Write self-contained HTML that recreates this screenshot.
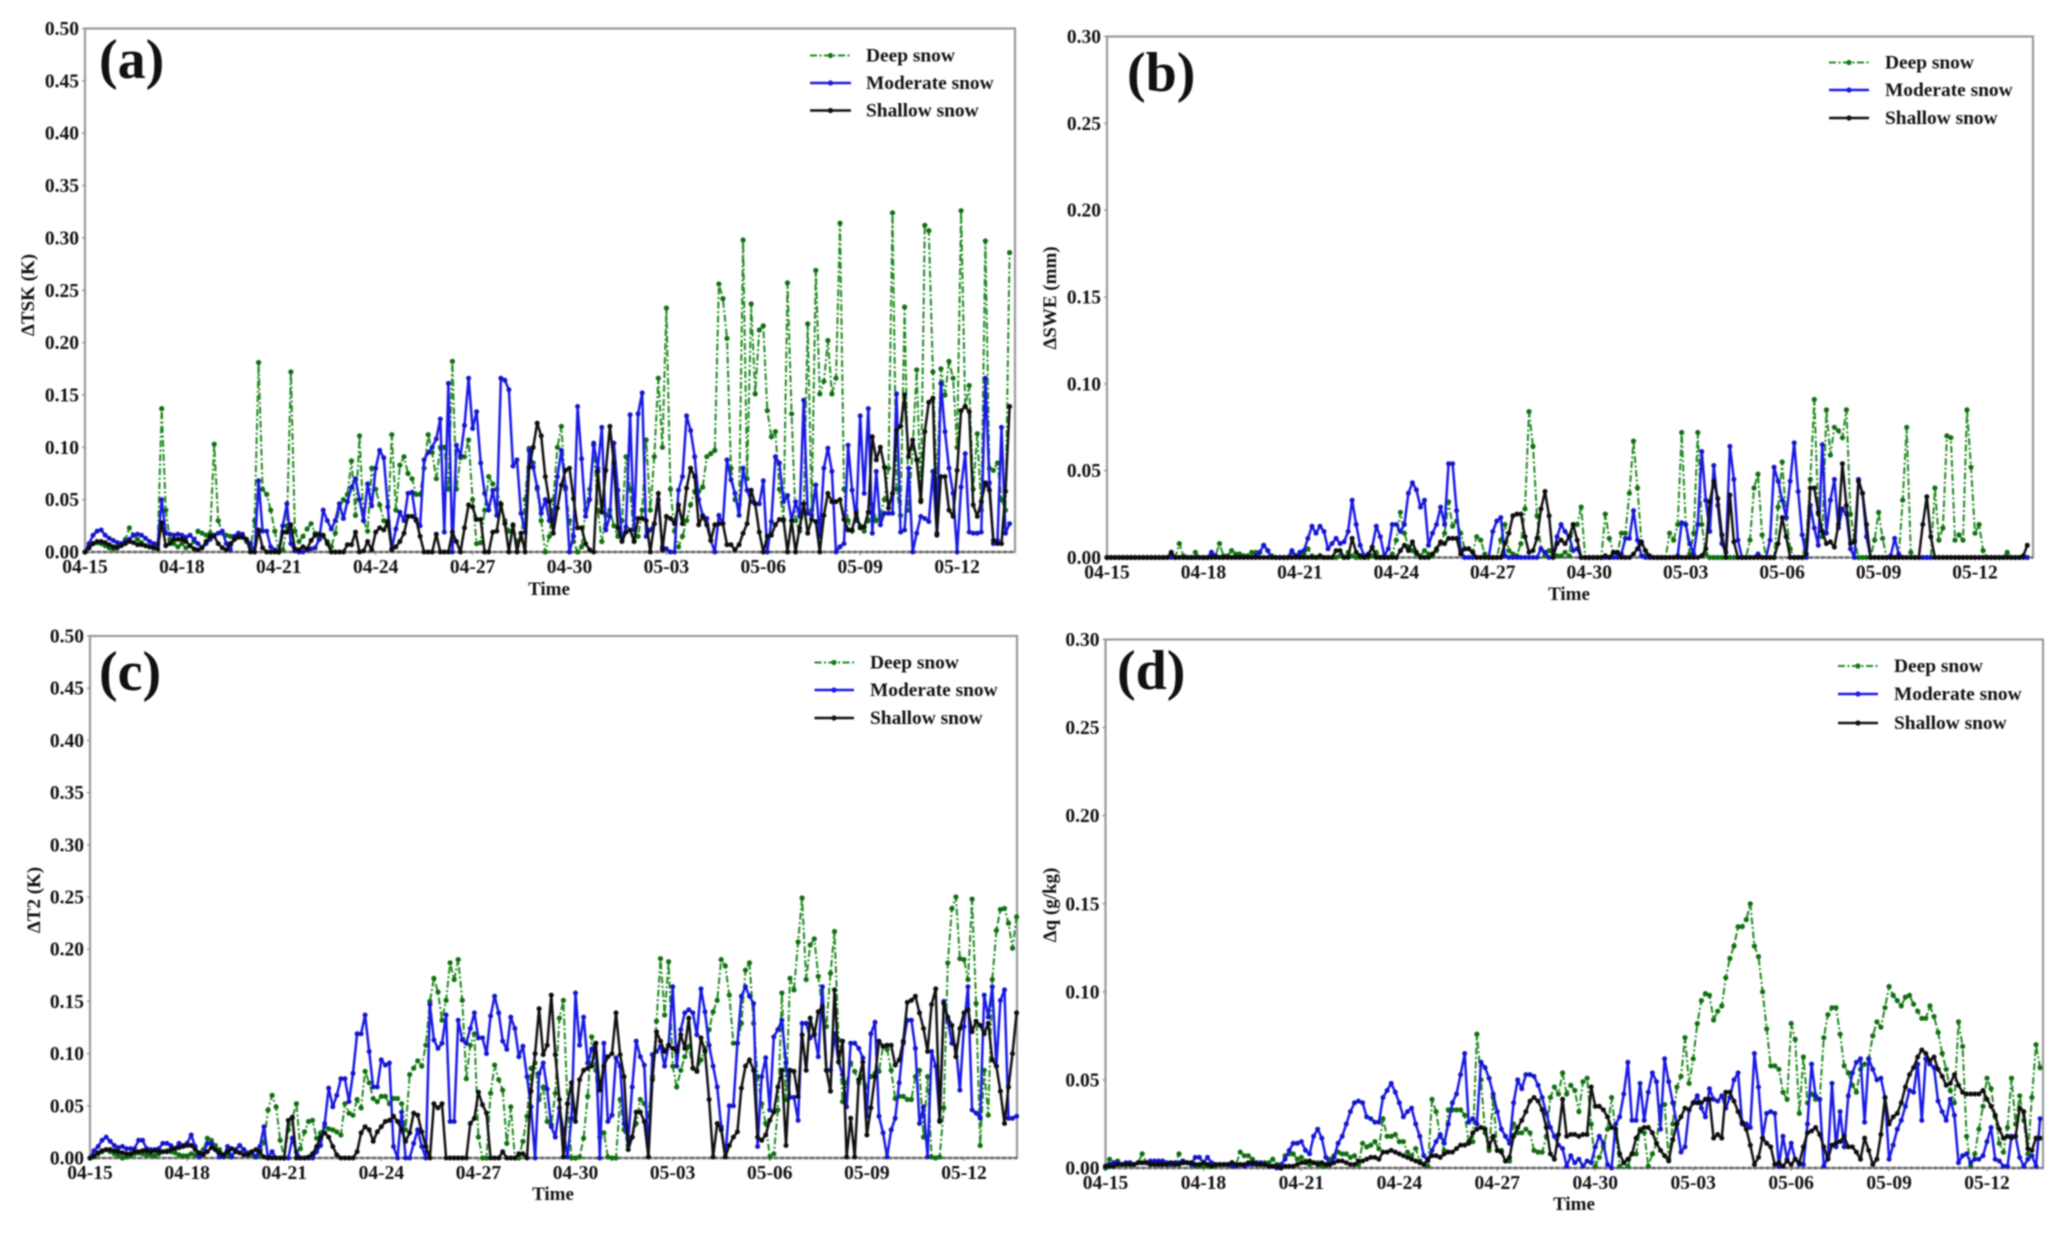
<!DOCTYPE html>
<html>
<head>
<meta charset="utf-8">
<title>Snow cover differences</title>
<style>
html,body{margin:0;padding:0;background:#fff;}
svg{display:block;filter:blur(0.75px);}
text{font-family:"Liberation Serif",serif;font-weight:bold;fill:#111;}
.tick{font-size:19.5px;}
.title{font-size:19px;}
.leg{font-size:19.4px;}
.tag{font-size:56px;}
.frame{fill:none;stroke:#999;stroke-width:2.2;}
</style>
</head>
<body>
<svg id="figure" width="2067" height="1235" viewBox="0 0 2067 1235" xmlns="http://www.w3.org/2000/svg">
<rect x="0" y="0" width="2067" height="1235" fill="#fff"/>

<g id="panel-a">
<rect class="frame" x="85" y="28.5" width="930" height="523.5"/>
<text class="tag" x="99" y="78">(a)</text>
<text class="title" x="549" y="595" text-anchor="middle">Time</text>
<text class="title" transform="translate(34,295) rotate(-90)" text-anchor="middle">ΔTSK (K)</text>
<g>
<line x1="810" x2="851" y1="55.5" y2="55.5" stroke="#1f8a1f" stroke-width="2" stroke-dasharray="7 2.5 2 2.5"/><circle cx="830.5" cy="55.5" r="2.6" fill="#137513"/>
<text class="leg" x="866" y="61.5">Deep snow</text>
<line x1="810" x2="851" y1="83" y2="83" stroke="#1a1ae6" stroke-width="2.4"/><circle cx="830.5" cy="83" r="2.6" fill="#1a1ae6"/>
<text class="leg" x="866" y="89">Moderate snow</text>
<line x1="810" x2="851" y1="110.5" y2="110.5" stroke="#111" stroke-width="2.4"/><circle cx="830.5" cy="110.5" r="2.6" fill="#111"/>
<text class="leg" x="866" y="116.5">Shallow snow</text>
</g>
</g>

<g id="panel-b">
<rect class="frame" x="1107" y="36.5" width="926" height="521"/>
<text class="tag" x="1127" y="91">(b)</text>
<text class="title" x="1569" y="600" text-anchor="middle">Time</text>
<text class="title" transform="translate(1056,298) rotate(-90)" text-anchor="middle">ΔSWE (mm)</text>
<g>
<line x1="1829" x2="1869" y1="62.5" y2="62.5" stroke="#1f8a1f" stroke-width="2" stroke-dasharray="7 2.5 2 2.5"/><circle cx="1849" cy="62.5" r="2.6" fill="#137513"/>
<text class="leg" x="1885" y="68.5">Deep snow</text>
<line x1="1829" x2="1869" y1="90" y2="90" stroke="#1a1ae6" stroke-width="2.4"/><circle cx="1849" cy="90" r="2.6" fill="#1a1ae6"/>
<text class="leg" x="1885" y="96">Moderate snow</text>
<line x1="1829" x2="1869" y1="118" y2="118" stroke="#111" stroke-width="2.4"/><circle cx="1849" cy="118" r="2.6" fill="#111"/>
<text class="leg" x="1885" y="124">Shallow snow</text>
</g>
</g>

<g id="panel-c">
<rect class="frame" x="90" y="636" width="927" height="522"/>
<text class="tag" x="99" y="690">(c)</text>
<text class="title" x="553" y="1200" text-anchor="middle">Time</text>
<text class="title" transform="translate(40,900) rotate(-90)" text-anchor="middle">ΔT2 (K)</text>
<g>
<line x1="814.5" x2="854" y1="662.5" y2="662.5" stroke="#1f8a1f" stroke-width="2" stroke-dasharray="7 2.5 2 2.5"/><circle cx="834" cy="662.5" r="2.6" fill="#137513"/>
<text class="leg" x="870" y="668.5">Deep snow</text>
<line x1="814.5" x2="854" y1="690" y2="690" stroke="#1a1ae6" stroke-width="2.4"/><circle cx="834" cy="690" r="2.6" fill="#1a1ae6"/>
<text class="leg" x="870" y="696">Moderate snow</text>
<line x1="814.5" x2="854" y1="718" y2="718" stroke="#111" stroke-width="2.4"/><circle cx="834" cy="718" r="2.6" fill="#111"/>
<text class="leg" x="870" y="724">Shallow snow</text>
</g>
</g>

<g id="panel-d">
<rect class="frame" x="1105.5" y="639.5" width="937.5" height="528.5"/>
<text class="tag" x="1117" y="689">(d)</text>
<text class="title" x="1574" y="1210" text-anchor="middle">Time</text>
<text class="title" transform="translate(1056,905) rotate(-90)" text-anchor="middle">Δq (g/kg)</text>
<g>
<line x1="1838" x2="1878" y1="666" y2="666" stroke="#1f8a1f" stroke-width="2" stroke-dasharray="7 2.5 2 2.5"/><circle cx="1858" cy="666" r="2.6" fill="#137513"/>
<text class="leg" x="1894" y="672">Deep snow</text>
<line x1="1838" x2="1878" y1="694" y2="694" stroke="#1a1ae6" stroke-width="2.4"/><circle cx="1858" cy="694" r="2.6" fill="#1a1ae6"/>
<text class="leg" x="1894" y="700">Moderate snow</text>
<line x1="1838" x2="1878" y1="723" y2="723" stroke="#111" stroke-width="2.4"/><circle cx="1858" cy="723" r="2.6" fill="#111"/>
<text class="leg" x="1894" y="729">Shallow snow</text>
</g>
</g>
</svg>

<script>
// Values are 3-hourly and given in thousandths of the axis unit; each row spans 3 days.
const xTickLabels = ["04-15","04-18","04-21","04-24","04-27","04-30","05-03","05-06","05-09","05-12"];
const yTicksLarge = [0,0.05,0.10,0.15,0.20,0.25,0.30,0.35,0.40,0.45,0.50];
const yTicksSmall = [0,0.05,0.10,0.15,0.20,0.25,0.30];

const deepTsk = [
0,4,8,9,8,6,4,3,5,8,12,23,16,12,9,6,5,4,8,137,40,12,8,5,
8,4,6,10,20,18,16,18,103,30,18,16,15,12,15,14,10,4,30,181,60,55,40,20,
0,2,25,172,20,10,15,22,27,18,12,15,10,5,18,42,50,55,87,35,111,30,20,80,
60,45,30,25,112,40,83,91,75,70,55,55,80,112,95,70,100,100,60,182,60,90,91,107,
50,8,9,40,72,65,60,45,30,20,25,10,12,50,99,85,60,30,0,15,50,100,120,60,
30,10,0,5,40,60,102,40,10,35,40,25,15,30,91,60,10,15,40,107,40,91,166,100,
233,60,20,5,15,30,45,58,58,62,91,94,97,256,242,204,80,50,45,298,70,237,151,212,
216,135,110,115,60,30,257,132,30,20,40,218,40,269,151,163,202,151,166,314,60,30,20,40,
25,20,30,45,30,35,50,80,324,60,35,234,40,100,174,50,312,307,172,60,175,150,182,166,
100,326,139,159,60,113,40,297,80,78,85,50,40,286];
const moderateTsk = [
0,8,16,20,21,16,13,11,9,8,10,12,16,17,16,13,10,8,7,50,18,17,16,17,
16,14,16,12,8,4,8,12,16,18,20,8,2,15,18,17,12,8,0,68,20,20,5,2,
0,25,46,8,1,0,0,2,3,4,12,40,30,22,30,46,32,48,62,70,50,30,65,44,
80,97,90,43,3,22,38,30,56,57,30,25,88,95,100,108,127,19,161,0,102,92,121,166,
118,134,85,56,40,59,35,166,164,155,82,88,37,19,97,81,62,37,50,30,30,72,97,62,
0,15,139,89,34,50,104,80,119,21,34,104,59,11,24,131,21,132,152,15,21,27,50,5,
3,0,0,59,72,130,116,91,50,35,32,11,0,35,27,88,69,56,35,80,59,48,46,46,
68,0,29,91,85,48,54,30,48,34,145,37,35,64,15,80,99,77,0,5,8,102,59,30,
130,56,137,18,77,26,37,37,37,151,19,21,80,0,18,34,32,29,77,18,161,115,80,56,
0,62,94,19,18,18,19,166,66,8,11,119,18,27];
const shallowTsk = [
0,4,8,10,10,9,7,5,4,6,8,10,9,7,7,6,5,4,3,28,6,8,12,12,
12,10,6,3,2,4,10,15,15,8,4,2,8,12,14,14,12,0,0,21,4,0,0,0,
0,19,19,26,3,2,5,3,11,16,17,16,8,0,0,0,0,7,7,19,0,1,10,2,
19,23,21,29,2,5,10,18,34,34,31,15,0,0,0,17,0,0,0,19,10,0,23,45,
43,31,31,0,0,19,20,46,27,0,26,0,18,0,81,100,123,111,72,48,18,42,64,78,
80,51,23,23,8,2,0,77,38,78,120,85,23,10,19,21,10,32,32,30,0,27,56,2,
34,32,27,45,27,61,80,72,26,34,26,11,26,27,27,7,7,2,7,18,27,59,46,19,
0,15,16,26,31,31,0,30,0,23,46,18,31,29,0,35,56,48,48,50,31,21,21,37,
23,24,38,110,88,100,81,42,56,116,120,150,91,107,88,48,115,143,147,16,72,72,40,34,
78,135,139,134,45,34,48,66,59,11,8,8,58,139];

const deepSwe = [
0,0,0,0,0,0,0,0,0,0,0,0,0,0,0,0,2,0,8,1,0,0,3,0,
0,0,2,1,8,1,1,4,2,2,1,1,3,3,3,7,4,1,0,0,0,0,3,1,
1,2,5,1,0,0,0,0,0,0,1,0,3,1,0,0,0,0,1,3,0,0,0,2,
10,26,14,6,4,2,1,4,2,1,4,8,14,32,18,21,14,5,5,3,12,10,2,0,
0,0,10,19,4,2,1,8,28,84,64,24,5,1,4,2,1,1,3,1,19,19,29,0,
0,0,0,0,25,11,3,2,14,14,37,67,40,8,1,0,0,0,0,0,14,10,19,72,
19,2,14,72,19,2,0,0,0,0,0,0,0,0,0,0,10,40,48,13,0,0,0,29,
55,23,5,0,0,0,10,45,91,25,12,85,59,75,73,69,85,25,10,0,0,0,0,10,
26,11,0,0,0,0,33,75,3,0,0,0,0,0,40,10,17,70,69,10,13,10,85,52,
14,19,4,0,0,0,0,0,3,0,0,0,0,0];
const moderateSwe = [
0,0,0,0,0,0,0,0,0,0,0,0,0,0,0,0,0,0,0,0,0,0,0,0,
0,0,3,1,0,0,0,0,0,0,0,0,0,1,3,7,4,0,0,0,0,0,4,1,
3,4,11,18,14,18,15,5,8,11,8,9,15,33,19,7,1,2,6,18,12,1,5,19,
19,15,19,37,43,39,29,33,7,14,19,29,19,54,54,27,4,0,0,0,0,0,0,0,
15,21,23,1,0,0,0,0,0,0,0,0,5,3,0,0,12,19,15,12,4,5,0,0,
0,0,0,0,0,0,0,0,2,11,11,27,10,1,0,0,0,0,0,0,0,0,1,20,
19,8,2,19,61,33,15,53,30,8,3,64,45,10,0,0,0,0,2,0,0,10,52,44,
33,23,44,66,38,13,0,30,17,7,65,14,33,45,17,28,25,5,0,45,37,12,0,0,
0,0,0,1,11,2,0,0,0,0,0,0,0,0,0,0,0,0,0,0,0,0,0,0,
0,0,0,0,0,0,0,0,0,0,0,0,0,0];
const shallowSwe = [
0,0,0,0,0,0,0,0,0,0,0,0,0,0,0,0,3,0,0,0,0,0,0,0,
0,0,0,0,0,0,0,0,0,0,0,0,0,0,0,0,0,0,0,0,0,0,0,0,
0,0,0,0,0,1,0,0,0,4,4,0,0,11,3,1,0,1,6,0,0,0,0,0,
0,4,7,4,9,3,0,0,0,2,5,9,8,11,11,11,2,5,5,3,0,0,0,0,
0,0,0,8,14,24,25,25,12,3,4,11,28,38,24,0,8,10,8,12,19,10,0,0,
0,0,0,0,1,0,3,3,0,0,0,2,5,9,4,1,0,0,0,0,0,0,0,0,
0,0,0,0,1,5,32,44,34,13,0,36,9,0,0,0,0,0,0,0,0,0,0,8,
23,12,0,0,0,0,2,40,40,26,15,8,9,6,19,54,30,8,9,44,37,19,0,0,
0,0,0,0,0,0,0,0,0,0,0,19,35,12,0,0,0,0,0,0,0,0,0,0,
0,0,0,0,0,0,0,0,0,0,0,0,1,7];

const deepT2 = [
0,1,4,6,8,6,4,2,0,1,2,4,5,4,3,3,2,4,6,7,6,5,3,2,
2,4,3,1,8,19,17,12,8,3,2,1,8,12,8,5,3,1,2,15,46,60,49,17,
0,27,38,52,9,25,35,36,19,24,30,28,27,25,22,52,43,41,56,48,83,72,57,54,
59,59,52,57,57,52,27,80,86,93,88,108,150,172,159,132,151,187,171,190,151,76,108,119,
20,0,0,62,89,75,65,14,49,0,0,16,40,86,91,56,68,35,32,62,134,151,52,0,
0,1,19,59,116,84,20,24,1,0,0,56,27,12,20,33,56,52,40,78,131,191,137,188,
88,68,84,97,107,86,83,94,104,123,140,151,190,184,156,110,110,129,180,187,129,78,52,33,
1,4,46,158,56,172,161,207,249,171,204,210,174,142,126,177,217,113,54,72,91,83,72,78,
68,78,81,83,107,104,84,57,59,59,56,56,78,84,20,78,1,0,1,48,187,239,250,191,
190,171,248,148,12,84,41,171,218,238,239,225,201,231];
const moderateT2 = [
0,7,11,17,20,16,12,10,11,9,9,9,17,17,9,8,8,9,14,14,12,9,14,12,
14,22,11,1,4,14,14,8,1,1,11,1,8,12,8,4,6,1,11,30,0,6,0,0,
0,0,19,6,0,0,0,0,6,12,33,67,49,60,76,76,54,81,119,119,137,102,68,68,
94,89,91,11,0,44,0,0,14,27,11,0,147,113,105,110,137,35,35,132,113,110,124,139,
115,115,100,136,155,139,112,104,135,124,97,107,78,49,0,81,91,66,30,20,48,27,1,38,
158,108,135,91,104,110,0,110,35,41,96,88,33,17,68,112,97,89,1,99,102,107,88,108,
164,88,123,139,142,139,118,162,140,108,88,68,30,1,50,50,110,155,164,155,148,11,78,96,
46,116,123,132,91,58,58,36,129,129,115,119,97,164,84,84,119,92,80,49,110,110,105,96,
40,119,130,40,24,1,27,38,72,110,132,132,105,33,49,1,102,88,36,150,132,110,107,65,
126,164,46,43,38,156,135,164,88,151,161,38,38,40];
const shallowT2 = [
0,2,5,7,8,8,7,6,5,4,4,6,6,7,7,6,7,6,6,6,8,9,10,11,
12,12,8,5,3,6,10,8,5,3,6,9,6,5,3,3,6,8,6,1,0,0,0,0,
0,36,39,0,0,0,1,4,11,20,24,20,11,3,0,0,0,0,6,24,30,27,16,25,
30,35,36,40,35,27,16,24,43,41,25,11,0,52,48,52,0,0,0,0,0,0,33,38,
63,51,43,0,0,0,6,0,0,0,4,4,0,64,100,143,99,108,156,99,56,1,52,72,
35,75,84,86,88,110,65,88,97,100,139,99,78,8,20,44,44,35,1,75,121,112,102,108,
105,102,118,105,134,86,83,115,102,56,1,33,27,1,12,20,25,67,88,94,84,20,17,22,
36,44,68,84,12,84,83,59,118,84,134,118,140,145,84,64,161,92,112,1,38,1,75,92,
22,48,78,112,107,108,108,89,94,112,149,151,155,139,124,102,147,162,35,148,135,127,97,124,
139,142,121,131,127,119,129,94,88,64,33,68,100,139];

const deepQ = [
0,5,3,4,2,2,2,2,3,8,3,2,3,2,2,2,2,2,8,3,3,2,1,1,
1,1,1,1,2,2,2,3,2,9,7,7,5,3,2,3,3,5,2,0,7,8,8,5,
6,4,2,3,3,1,1,5,7,9,8,8,6,7,2,14,12,13,15,11,28,18,18,19,
15,15,9,7,11,4,2,1,39,32,18,10,33,33,33,33,30,15,15,76,50,20,10,40,
10,10,4,4,25,20,20,22,20,10,9,9,18,40,46,42,54,42,47,44,32,49,51,25,
1,6,12,22,40,20,1,3,1,8,8,22,20,1,8,14,35,36,5,25,46,52,74,48,
62,82,95,99,98,84,89,92,108,119,126,137,137,141,150,126,120,100,79,58,58,56,43,39,
82,73,31,63,37,42,39,39,74,87,91,91,76,58,54,47,43,56,59,62,75,83,80,91,
103,98,95,92,97,98,93,89,85,85,92,86,77,65,56,44,37,83,69,18,1,8,22,35,
51,45,29,14,9,23,51,25,41,27,8,40,70,57];
const moderateQ = [
1,2,3,3,2,3,3,2,3,3,3,4,4,4,4,3,2,3,3,4,3,2,6,6,
3,6,3,2,2,2,2,1,1,2,1,2,2,3,3,2,1,1,0,2,5,10,14,14,
15,10,8,18,22,17,6,2,6,14,18,25,32,37,38,37,29,28,26,26,40,44,48,43,
37,29,32,34,25,18,7,4,10,15,19,14,25,37,42,53,65,26,28,25,60,57,51,42,
32,22,18,14,37,50,45,53,53,52,47,40,31,23,18,13,11,1,7,3,5,1,4,3,
12,18,14,2,0,25,29,42,60,27,27,48,27,43,54,49,22,62,49,37,25,9,12,33,
37,41,34,29,45,39,38,41,34,40,50,54,25,25,23,65,46,17,31,32,31,1,18,5,
14,5,2,2,25,59,41,39,1,6,48,12,32,12,41,54,60,62,26,62,56,50,51,40,
5,13,22,27,35,44,43,59,27,62,59,57,38,32,27,39,30,3,7,8,3,5,5,7,
15,23,5,4,1,1,18,18,6,1,5,7,1,28];
const shallowQ = [
1,1,1,2,2,2,2,2,3,3,3,2,2,2,2,2,3,2,2,3,3,3,2,2,
3,2,1,2,2,2,2,3,2,2,2,3,3,2,2,2,1,1,1,0,1,1,1,2,
3,3,4,3,2,3,2,2,3,4,4,3,2,2,4,4,5,6,6,5,9,9,10,9,
8,7,6,5,4,3,2,5,7,7,6,8,9,9,11,13,13,14,20,22,23,22,12,18,
10,9,4,6,18,23,27,32,38,40,38,33,23,8,5,19,39,18,19,19,18,19,19,46,
35,35,33,29,23,22,8,3,5,8,17,21,23,23,20,14,10,7,4,16,25,29,34,33,
37,37,37,39,39,17,19,17,43,43,38,32,26,22,13,2,6,17,14,12,2,3,1,4,
2,5,3,12,20,21,23,19,12,5,13,14,15,18,12,12,9,5,17,10,2,5,19,40,
25,29,31,37,46,53,57,63,67,65,61,63,56,52,47,48,53,47,43,42,42,42,42,44,
39,35,30,22,17,18,17,18,34,32,11,10,17,17];

const NS = "http://www.w3.org/2000/svg";

function drawTicks(group, suffix, box, yTicks, xOf, yOf) {
  yTicks.forEach(function (t) {
    const mark = document.createElementNS(NS, "line");
    
    
    mark.setAttribute("x1", box.left - 3);
    mark.setAttribute("x2", box.left);
    mark.setAttribute("y1", yOf(t));
    mark.setAttribute("y2", yOf(t));
    mark.setAttribute("stroke", "#888");
    mark.setAttribute("stroke-width", "1.2");
    group.appendChild(mark);
    const label = document.createElementNS(NS, "text");
    
    
    label.setAttribute("class", "tick");
    label.setAttribute("x", box.left - 6);
    label.setAttribute("y", yOf(t) + 6.5);
    label.setAttribute("text-anchor", "end");
    label.textContent = t.toFixed(2);
    group.appendChild(label);
  });
  xTickLabels.forEach(function (name, k) {
    const px = xOf(k * 24);
    const mark = document.createElementNS(NS, "line");
    
    
    mark.setAttribute("x1", px);
    mark.setAttribute("x2", px);
    mark.setAttribute("y1", box.bottom);
    mark.setAttribute("y2", box.bottom + 3);
    mark.setAttribute("stroke", "#888");
    mark.setAttribute("stroke-width", "1.2");
    group.appendChild(mark);
    const label = document.createElementNS(NS, "text");
    
    
    label.setAttribute("class", "tick");
    label.setAttribute("x", px);
    label.setAttribute("y", box.bottom + 21);
    label.setAttribute("text-anchor", "middle");
    label.textContent = name;
    group.appendChild(label);
  });
}

function drawSeries(group, values, style, xOf, yOf) {
  const pts = values.map(function (v, i) { return xOf(i).toFixed(1) + "," + yOf(v / 1000).toFixed(1); }).join(" ");
  const path = document.createElementNS(NS, "polyline");
  
  
  path.setAttribute("points", pts);
  path.setAttribute("fill", "none");
  path.setAttribute("stroke", style.stroke);
  path.setAttribute("stroke-width", style.width);
  path.setAttribute("stroke-linejoin", "round");
  if (style.dash) path.setAttribute("stroke-dasharray", style.dash);
  group.appendChild(path);
  values.forEach(function (v, i) {
    const dot = document.createElementNS(NS, "circle");
    
    
    dot.setAttribute("cx", xOf(i).toFixed(1));
    dot.setAttribute("cy", yOf(v / 1000).toFixed(1));
    dot.setAttribute("r", style.r);
    dot.setAttribute("fill", style.dot);
    group.appendChild(dot);
  });
}

function renderPanel(id, box, yMax, yTicks, deep, moderate, shallow) {
  const group = document.getElementById(id);
  const dayPx = box.dayPx;
  const xOf = function (i) { return box.left + dayPx * i / 8; };
  const yOf = function (v) { return box.bottom - (v / yMax) * (box.bottom - box.top); };
  const zero = document.createElementNS(NS, "line");
  
  
  zero.setAttribute("x1", box.left);
  zero.setAttribute("x2", box.right);
  zero.setAttribute("y1", box.bottom);
  zero.setAttribute("y2", box.bottom);
  zero.setAttribute("stroke", "#666");
  zero.setAttribute("stroke-width", "2.4");
  zero.setAttribute("stroke-dasharray", "4 2");
  group.appendChild(zero);
  drawTicks(group, id, box, yTicks, xOf, yOf);
  drawSeries(group, deep, {name: "deep-snow", stroke: "#1f8a1f", dot: "#0f6e0f", width: 2, dash: "7 2.5 2 2.5", r: 2.6}, xOf, yOf);
  drawSeries(group, moderate, {name: "moderate-snow", stroke: "#1a1ae6", dot: "#1414c8", width: 2.5, dash: "", r: 2.5}, xOf, yOf);
  drawSeries(group, shallow, {name: "shallow-snow", stroke: "#111", dot: "#0c0c0c", width: 2.5, dash: "", r: 2.5}, xOf, yOf);
}

renderPanel("panel-a", {left: 85, right: 1015, top: 28.5, bottom: 552, dayPx: 32.3}, 0.5, yTicksLarge, deepTsk, moderateTsk, shallowTsk);
renderPanel("panel-b", {left: 1107, right: 2033, top: 36.5, bottom: 557.5, dayPx: 32.15}, 0.3, yTicksSmall, deepSwe, moderateSwe, shallowSwe);
renderPanel("panel-c", {left: 90, right: 1017, top: 636, bottom: 1158, dayPx: 32.37}, 0.5, yTicksLarge, deepT2, moderateT2, shallowT2);
renderPanel("panel-d", {left: 1105.5, right: 2043, top: 639.5, bottom: 1168, dayPx: 32.65}, 0.3, yTicksSmall, deepQ, moderateQ, shallowQ);
</script>
</body>
</html>
